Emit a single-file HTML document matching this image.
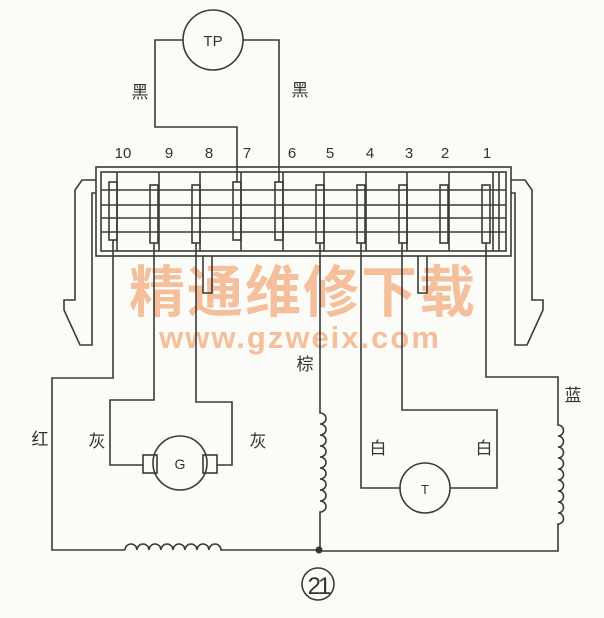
<!DOCTYPE html>
<html><head><meta charset="utf-8"><style>
body{margin:0;background:#fbfbf7;}
svg{display:block;}
.l{stroke:#3a3a3a;stroke-width:1.6;fill:none;}
.t{font-family:"Liberation Sans","Noto Sans CJK SC",sans-serif;fill:#333;}
</style></head><body>
<svg width="604" height="618" viewBox="0 0 604 618">
<rect width="604" height="618" fill="#fbfbf7"/>
<!-- watermark -->
<text x="303" y="312" font-size="56" text-anchor="middle" fill="#f3b184" opacity="0.8" font-family="Liberation Sans,Noto Sans CJK SC,sans-serif" font-weight="bold" letter-spacing="2">精通维修下载</text>
<text x="300" y="348" font-size="31" text-anchor="middle" fill="#f3b184" opacity="0.8" font-family="Liberation Sans,sans-serif" font-weight="bold" letter-spacing="2">www.gzweix.com</text>
<!-- TP -->
<circle class="l" cx="213" cy="40" r="30"/>
<text class="t" x="213" y="46" font-size="15" text-anchor="middle">TP</text>
<path class="l" d="M183 40 H155 V127 H237 V182"/>
<path class="l" d="M243 40 H279 V182"/>
<text class="t" x="140" y="98" font-size="17" text-anchor="middle">黑</text>
<text class="t" x="300" y="96" font-size="17" text-anchor="middle">黑</text>
<!-- numbers -->
<g class="t" font-size="15" text-anchor="middle">
<text x="123" y="158">10</text><text x="169" y="158">9</text><text x="209" y="158">8</text><text x="247" y="158">7</text><text x="292" y="158">6</text><text x="330" y="158">5</text><text x="370" y="158">4</text><text x="409" y="158">3</text><text x="445" y="158">2</text><text x="487" y="158">1</text>
</g>
<!-- connector -->
<rect class="l" x="96" y="167" width="415" height="89"/>
<rect class="l" x="101" y="172" width="405" height="79"/>
<path class="l" d="M96 180 H82 L75 190 V300 H64 V310 L80 345 H92 V193 H96"/>
<path class="l" d="M511 180 H525 L532 190 V300 H543 V310 L527 345 H515 V193 H511"/>
<g class="l">
<path d="M101 190 H506 M101 205 H506 M101 218 H506 M101 232 H506"/>
<path d="M117 172 V251 M159 172 V251 M200 172 V251 M241 172 V251 M283 172 V251 M324 172 V251 M366 172 V251 M407 172 V251 M449 172 V251 M493 172 V251 M499 172 V251"/>
</g>
<g fill="#fbfbf7" class="l">
<rect x="109" y="182" width="8" height="58"/><rect x="150" y="185" width="8" height="58"/><rect x="192" y="185" width="8" height="58"/><rect x="233" y="182" width="8" height="58"/><rect x="275" y="182" width="8" height="58"/><rect x="316" y="185" width="8" height="58"/><rect x="357" y="185" width="8" height="58"/><rect x="399" y="185" width="8" height="58"/><rect x="440" y="185" width="8" height="58"/><rect x="482" y="185" width="8" height="58"/>
</g>
<path class="l" d="M203 256 V293 H212 V256 M418 256 V293 H427 V256"/>
<!-- left wiring -->
<path class="l" d="M113 240 V378 H52 V550 H125"/>
<path class="l" d="M125 550 a6 6 0 0 1 12 0 a6 6 0 0 1 12 0 a6 6 0 0 1 12 0 a6 6 0 0 1 12 0 a6 6 0 0 1 12 0 a6 6 0 0 1 12 0 a6 6 0 0 1 12 0 a6 6 0 0 1 12 0 H320"/>
<path class="l" d="M154 243 V400 H110 V465 H143"/>
<path class="l" d="M196 243 V402 H232 V465 H217"/>
<circle class="l" cx="180" cy="463" r="27"/>
<rect class="l" x="143" y="455" width="14" height="18" fill="#fbfbf7"/>
<rect class="l" x="203" y="455" width="14" height="18" fill="#fbfbf7"/>
<text x="180" y="469" font-size="14" class="t" text-anchor="middle" font-family="Liberation Serif">G</text>
<text class="t" x="40" y="445" font-size="17" text-anchor="middle">红</text>
<text class="t" x="97" y="447" font-size="17" text-anchor="middle">灰</text>
<text class="t" x="258" y="447" font-size="17" text-anchor="middle">灰</text>
<!-- center -->
<path class="l" d="M320 243 V413 a6 5.5 0 0 1 0 11 a6 5.5 0 0 1 0 11 a6 5.5 0 0 1 0 11 a6 5.5 0 0 1 0 11 a6 5.5 0 0 1 0 11 a6 5.5 0 0 1 0 11 a6 5.5 0 0 1 0 11 a6 5.5 0 0 1 0 11 a6 5.5 0 0 1 0 11 V550"/>
<circle cx="319" cy="550" r="3.5" fill="#333"/>
<text class="t" x="305" y="370" font-size="17" text-anchor="middle">棕</text>
<!-- right -->
<path class="l" d="M361 243 V488 H400"/>
<path class="l" d="M450 488 H497 V410 H402 V243"/>
<circle class="l" cx="425" cy="488" r="25"/>
<text x="425" y="494" font-size="13" class="t" text-anchor="middle" font-family="Liberation Serif">T</text>
<text class="t" x="378" y="454" font-size="17" text-anchor="middle">白</text>
<text class="t" x="484" y="454" font-size="17" text-anchor="middle">白</text>
<path class="l" d="M486 243 V377 H558 V425 a5.5 5.5 0 0 1 0 11 a5.5 5.5 0 0 1 0 11 a5.5 5.5 0 0 1 0 11 a5.5 5.5 0 0 1 0 11 a5.5 5.5 0 0 1 0 11 a5.5 5.5 0 0 1 0 11 a5.5 5.5 0 0 1 0 11 a5.5 5.5 0 0 1 0 11 a5.5 5.5 0 0 1 0 11 V551 H320"/>
<text class="t" x="573" y="401" font-size="17" text-anchor="middle">蓝</text>
<!-- 21 -->
<circle class="l" cx="318" cy="584" r="16"/>
<text x="318" y="594" font-size="24" text-anchor="middle" class="t" font-family="Liberation Serif" letter-spacing="-3">21</text>
</svg>
</body></html>
